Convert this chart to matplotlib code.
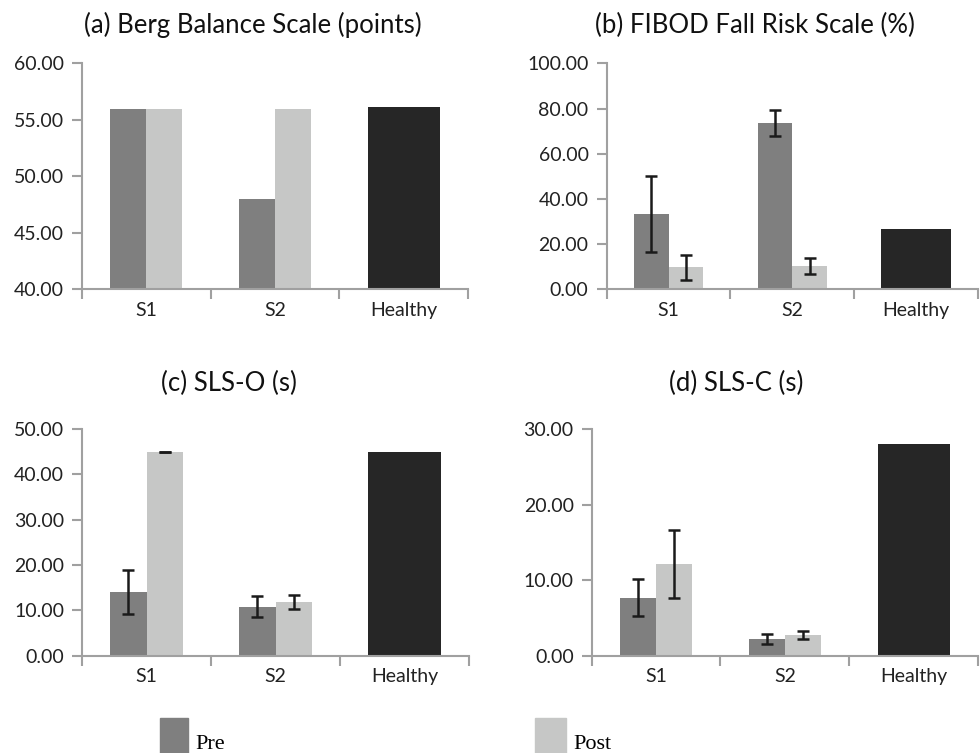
import numpy as np
import matplotlib.pyplot as plt
from matplotlib.patches import Rectangle

plt.rcParams['font.family'] = ['Lato', 'DejaVu Sans']

groups = ['S1', 'S2']
titles = ['(a) Berg Balance Scale (points)', '(b) FIBOD Fall Risk Scale (%)',
          '(c) SLS-O (s)', '(d) SLS-C (s)']

pre_vals = [[56.0, 48.0], [33.4, 73.7], [14.1, 10.8], [7.7, 2.25]]
post_vals = [[56.0, 56.0], [9.7, 10.3], [45.0, 11.8], [12.2, 2.75]]
pre_err = [None, [16.9, 5.7], [4.9, 2.35], [2.4, 0.65]]
post_err = [None, [5.6, 3.6], [0.0, 1.6], [4.5, 0.56]]
healthy_vals = [56.1, 26.7, 45.0, 28.0]

y_limits = [(40, 60), (0, 100), (0, 50), (0, 30)]
y_ticks = [[40, 45, 50, 55, 60], [0, 20, 40, 60, 80, 100],
           [0, 10, 20, 30, 40, 50], [0, 10, 20, 30]]

PRE = '#7f7f7f'
POST = '#c6c7c6'
HEALTHY = '#262626'
AXIS = '#a0a0a0'

W, H = 980, 753
fig = plt.figure(figsize=(9.8, 7.53), dpi=100)

# axes boxes in figure fractions [left, bottom, width, height]
boxes = [
    [0.0837, 0.6158, 0.3939, 0.3001],
    [0.6190, 0.6158, 0.3790, 0.3001],
    [0.0837, 0.1292, 0.3949, 0.3011],
    [0.6038, 0.1292, 0.3942, 0.3007],
]
# title centre x and baseline y (pixels)
title_pos = [(253, 33), (755, 33), (229, 391), (736, 391)]

w = 0.28
x = np.arange(len(groups))
for i in range(4):
    ax = fig.add_axes(boxes[i])
    ax.bar(x - w / 2, pre_vals[i], w, color=PRE)
    ax.bar(x + w / 2, post_vals[i], w, color=POST)
    ax.bar([2], [healthy_vals[i]], 2 * w, color=HEALTHY)
    if pre_err[i] is not None:
        ax.errorbar(x - w / 2, pre_vals[i], yerr=pre_err[i], fmt='none',
                    ecolor='#1a1a1a', elinewidth=1.8, capsize=4.5, capthick=1.8)
        ax.errorbar(x + w / 2, post_vals[i], yerr=post_err[i], fmt='none',
                    ecolor='#1a1a1a', elinewidth=1.8, capsize=4.5, capthick=1.8)

    ax.set_xlim(-0.5, 2.5)
    ax.set_ylim(*y_limits[i])
    ax.set_yticks(y_ticks[i])
    ax.set_yticklabels(['%.2f' % t for t in y_ticks[i]])
    ax.set_xticks([-0.5, 0.5, 1.5, 2.5])
    ax.set_xticklabels([])
    ax.set_xticks([0, 1, 2], minor=True)
    ax.set_xticklabels(groups + ['Healthy'], minor=True)
    ax.tick_params(axis='x', which='major', length=7, width=1.5, color=AXIS)
    ax.tick_params(axis='x', which='minor', length=0, pad=9, labelsize=14,
                   labelcolor='#222222')
    ax.tick_params(axis='y', length=7, width=1.5, color=AXIS, labelsize=14,
                   labelcolor='#222222', pad=6)
    for s in ['top', 'right']:
        ax.spines[s].set_visible(False)
    for s in ['left', 'bottom']:
        ax.spines[s].set_color(AXIS)
        ax.spines[s].set_linewidth(1.5)
    tx, ty = title_pos[i]
    fig.text(tx / W, 1 - ty / H, titles[i], fontsize=18.5, color='#111111',
             ha='center', va='baseline')

# legend at the bottom
for xl, sw, col, lab in [(160, 28, PRE, 'Pre'), (535, 31, POST, 'Post')]:
    fig.add_artist(Rectangle((xl / W, 0), sw / W, 35 / H,
                             transform=fig.transFigure, color=col))
    fig.text((xl + sw + 7) / W, 4 / H, lab, fontsize=16,
             family='Liberation Serif', va='baseline')

fig.savefig('out.png', dpi=100)
